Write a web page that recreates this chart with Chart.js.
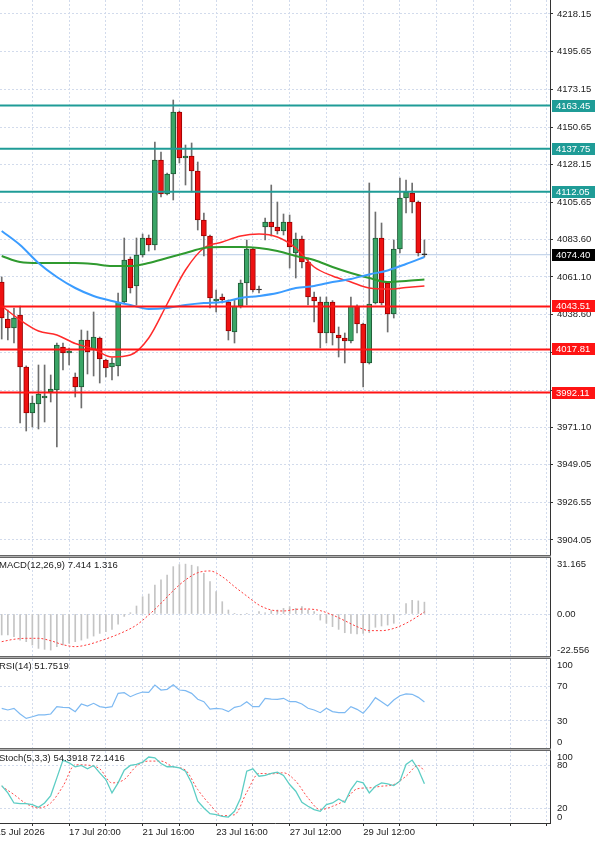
<!DOCTYPE html>
<html>
<head>
<meta charset="utf-8">
<script src="https://cdn.jsdelivr.net/npm/chart.js@4.4.1/dist/chart.umd.min.js"></script>
<style>
  body { margin: 0; background: #fff; }
  #wrap { position: relative; width: 600px; height: 842px; overflow: hidden; }
  canvas { position: absolute; left: 0; }
  .sep { position: absolute; left: 0; width: 551px; height: 1px; background: #b0b0b0;
         border-top: 1px solid #666; border-bottom: 1px solid #666; }
</style>
</head>
<body>
<div id="wrap">
  <canvas id="main" width="600" height="555" style="top:0"></canvas>
  <div class="sep" style="top:555px"></div>
  <canvas id="macd" width="600" height="98" style="top:558px"></canvas>
  <div class="sep" style="top:656px"></div>
  <canvas id="rsi" width="600" height="89" style="top:659px"></canvas>
  <div class="sep" style="top:748px"></div>
  <canvas id="stoch" width="600" height="91" style="top:751px"></canvas>
</div>
<script>
// 4h candles, bar 0 = first visible bar on the left
const open = [4058.11, 4036.02, 4030.64, 4038.40, 4007.36, 3979.89, 3985.27, 3988.85, 3992.43, 3993.62,
  4019.30, 4015.72, 4001.39, 3995.42, 4023.48, 4017.51, 4024.67, 4011.54, 4007.36, 4007.96,
  4046.17, 4071.85, 4055.72, 4074.24, 4084.39, 4080.21, 4130.96, 4110.66, 4122.60, 4159.63,
  4132.16, 4133.35, 4124.39, 4095.14, 4085.58, 4046.77, 4049.16, 4046.17, 4028.25, 4043.78,
  4057.51, 4077.82, 4053.93, 4090.96, 4093.94, 4090.96, 4088.57, 4093.94, 4075.43, 4083.79,
  4070.06, 4049.16, 4046.17, 4027.66, 4046.17, 4026.46, 4024.67, 4022.88, 4043.78, 4033.03,
  4009.75, 4045.57, 4084.39, 4057.51, 4039.00, 4077.82, 4108.27, 4111.26, 4105.88, 4074.90];
const high = [4061.10, 4041.39, 4042.59, 4043.78, 4008.00, 3990.04, 4008.55, 4008.55, 4002.58, 4021.69,
  4021.69, 4018.70, 4003.78, 4029.45, 4028.85, 4040.20, 4025.27, 4012.13, 4012.73, 4051.54,
  4084.39, 4073.04, 4084.39, 4086.77, 4086.18, 4141.71, 4135.74, 4123.20, 4166.79, 4160.22,
  4139.92, 4141.12, 4129.77, 4099.31, 4086.18, 4053.33, 4050.95, 4047.36, 4047.36, 4059.31,
  4083.19, 4078.40, 4055.72, 4096.33, 4116.03, 4105.88, 4098.72, 4098.12, 4087.37, 4085.58,
  4072.44, 4052.14, 4049.16, 4049.16, 4047.00, 4031.24, 4027.66, 4049.16, 4044.50, 4033.60,
  4117.23, 4099.91, 4093.34, 4058.00, 4083.19, 4120.21, 4119.02, 4117.23, 4106.50, 4083.19];
const low = [4024.07, 4023.48, 4021.69, 3973.92, 3969.14, 3971.53, 3970.34, 3974.52, 3986.46, 3959.59,
  4005.57, 4008.55, 3989.44, 3982.88, 4003.18, 4001.99, 3997.80, 4001.39, 3999.60, 4001.99,
  4045.57, 4051.54, 4044.38, 4073.04, 4076.62, 4077.22, 4108.87, 4110.06, 4107.08, 4129.17,
  4116.03, 4111.85, 4089.16, 4073.64, 4042.59, 4040.20, 4045.57, 4023.48, 4021.69, 4042.59,
  4044.38, 4052.14, 4051.54, 4083.19, 4085.58, 4086.77, 4086.18, 4066.47, 4060.50, 4066.47,
  4044.38, 4034.22, 4018.70, 4021.69, 4020.49, 4013.33, 4009.75, 4021.69, 4027.66, 3995.42,
  4009.15, 4045.00, 4044.38, 4028.25, 4036.61, 4075.43, 4099.31, 4099.31, 4073.64, 4073.04];
const close = [4036.61, 4030.64, 4036.61, 4007.36, 3979.89, 3985.86, 3991.24, 3990.04, 3994.22, 4020.49,
  4015.72, 4016.91, 3995.42, 4023.48, 4016.31, 4025.27, 4012.13, 4006.76, 4009.75, 4046.17,
  4071.25, 4054.53, 4074.24, 4084.39, 4080.21, 4130.96, 4110.66, 4122.60, 4159.63, 4132.16,
  4133.35, 4124.39, 4095.14, 4085.58, 4048.56, 4047.96, 4047.36, 4028.85, 4043.78, 4057.51,
  4077.82, 4053.33, 4053.33, 4093.94, 4090.96, 4088.57, 4093.94, 4079.01, 4083.79, 4070.06,
  4049.16, 4046.77, 4027.66, 4046.17, 4027.66, 4024.67, 4022.88, 4043.78, 4033.03, 4009.75,
  4044.97, 4084.39, 4045.57, 4039.00, 4077.82, 4108.27, 4111.85, 4105.88, 4075.43, 4074.40];

// moving averages, read every 3rd bar
const maIdx  = [0, 3, 6, 9, 12, 15, 18, 21, 24, 27, 30, 33, 36, 39, 42, 45, 48, 51, 54, 57, 60, 63, 66, 69];
const maRed  = [4043.78, 4035.42, 4028.85, 4026.46, 4021.39, 4018.10, 4013.33, 4014.50, 4024.67, 4044.97, 4065.28, 4078.41,
  4082.00, 4085.58, 4086.77, 4084.98, 4078.41, 4067.07, 4061.69, 4058.11, 4054.53, 4053.90, 4054.80, 4055.72];
const maGreen = [4073.64, 4070.06, 4069.46, 4069.46, 4069.46, 4068.86, 4067.67, 4067.67, 4069.46, 4072.44, 4075.43, 4078.41,
  4079.01, 4079.01, 4078.41, 4076.62, 4073.64, 4071.25, 4067.07, 4063.49, 4060.50, 4058.11, 4058.71, 4059.60];
const maBlue = [4088.57, 4080.21, 4069.46, 4061.10, 4054.53, 4049.76, 4046.77, 4044.38, 4041.99, 4042.59, 4044.38, 4045.57,
  4046.17, 4048.56, 4049.76, 4051.54, 4054.53, 4055.72, 4058.11, 4059.90, 4062.65, 4065.03, 4068.86, 4073.04];

const resistance = [4163.45, 4137.75, 4112.05];
const support    = [4043.51, 4017.81, 3992.11];
const lastPrice  = 4074.40;
const priceTicks = [4218.15, 4195.65, 4173.15, 4150.65, 4128.15, 4105.65, 4083.60, 4061.10, 4038.60,
  4016.10, 3993.60, 3971.10, 3949.05, 3926.55, 3904.05];

// MACD(12,26,9): histogram per bar, signal every 2nd bar
const macdHist = [-13.1, -13.1, -14.2, -16.3, -17.3, -19.4, -21.5, -22.1, -22.56, -20.4,
  -19.4, -18.3, -17.3, -16.3, -15.2, -13.8, -12.1, -11.0, -9.6, -6.3,
  -1.5, 0.8, 5.0, 10.8, 12.5, 18.1, 21.3, 24.4, 29.6, 30.9,
  31.17, 30.5, 29.6, 25.4, 20.2, 14.0, 7.7, 2.5, 0.2, -0.5,
  0.4, -0.3, 1.5, 0.8, 2.1, 2.5, 3.5, 4.6, 3.5, 4.6,
  2.5, 1.5, -3.8, -5.8, -7.9, -9.6, -11.7, -12.1, -12.5, -12.1,
  -11.7, -8.3, -7.5, -6.9, -5.8, -0.6, 6.5, 8.6, 8.2, 7.414];
const sigIdx = [0, 2, 4, 6, 8, 10, 12, 14, 16, 18, 20, 22, 24, 26, 28, 30, 32, 34,
  36, 38, 40, 42, 44, 46, 48, 50, 52, 54, 56, 58, 60, 62, 64, 66, 68, 69];
const macdSignal = [-17.3, -15.8, -15.2, -15.2, -16.7, -19.2, -20.4, -19.2, -16.9, -14.2, -11.0, -6.9, -0.6, 6.7, 14.6, 21.3, 25.8, 26.9,
  23.3, 17.1, 11.25, 5.6, 2.5, 1.9, 2.9, 3.1, 2.1, -0.6, -4.2, -7.9, -10.4, -10.4, -9.0, -5.8, -1.25, 1.316];

const rsi = [44.5, 42.6, 44.5, 38.0, 33.0, 34.9, 36.9, 36.9, 38.0, 46.4,
  45.6, 45.2, 40.7, 49.4, 47.1, 50.2, 46.4, 45.2, 46.4, 61.6,
  62.4, 57.8, 60.9, 63.1, 62.8, 71.1, 65.4, 66.2, 71.5, 65.4,
  64.7, 61.6, 54.8, 52.1, 43.7, 44.5, 43.7, 40.7, 45.6, 47.1,
  52.1, 46.4, 46.4, 55.9, 55.1, 54.8, 55.9, 52.1, 52.1, 49.4,
  44.5, 42.6, 39.5, 44.5, 40.7, 39.5, 39.5, 46.4, 43.3, 38.8,
  47.1, 56.7, 52.1, 47.1, 54.0, 58.9, 60.9, 60.5, 57.0, 51.7519];

const stochK = [52.0, 41.8, 27.8, 26.9, 26.9, 25.5, 21.8, 27.8, 38.1, 62.7,
  87.4, 83.6, 78.1, 79.9, 75.3, 79.9, 69.7, 60.4, 41.8, 55.7,
  73.4, 79.9, 81.3, 84.6, 91.6, 90.6, 82.7, 78.1, 78.1, 76.7,
  72.0, 55.7, 30.2, 20.9, 12.9, 11.5, 9.2, 8.3, 16.2, 34.8,
  72.0, 75.3, 65.0, 66.0, 68.8, 70.6, 66.0, 53.4, 44.1, 28.8,
  23.2, 18.5, 16.2, 25.5, 27.8, 33.4, 28.8, 46.4, 58.1, 55.7,
  41.8, 51.1, 55.7, 54.3, 52.0, 58.1, 81.3, 87.4, 74.3, 54.3918];
const stochD = [51.1, 39.5, 26.9, 20.9, 27.8, 51.1, 80.9, 80.4, 75.3, 55.7, 60.4, 79.0, 86.0, 86.0, 78.1, 73.4, 46.4, 25.5,
  10.2, 11.5, 42.7, 68.8, 68.3, 69.7, 58.1, 34.8, 18.5, 23.2, 31.5, 47.4, 48.8, 51.1, 53.4, 65.0, 79.9, 72.1416];

const dateIdx  = [-1, 11, 23, 35, 47, 59];
const dateText = ['15 Jul 2026', '17 Jul 20:00', '21 Jul 16:00', '23 Jul 16:00', '27 Jul 12:00', '29 Jul 12:00'];

// ---- styling ----
const FAMILY = '"Liberation Sans", Arial, sans-serif';
const FONT = '9.5px ' + FAMILY;
const TXT = '#222';
const GRID = '#d2dbec';
const UP = '#3aa566', UP_EDGE = '#1f5a35';
const DOWN = '#ee1111', DOWN_EDGE = '#990000';
const TEAL = '#1f9c97', RED = '#ff1414';
const X_MIN = -0.28, X_MAX = 89.5;

Chart.defaults.font.family = FAMILY;
Chart.defaults.font.size = 9.5;
Chart.defaults.color = TXT;

const gridIdx = [];
for (let v = -1; v <= 89; v += 6) gridIdx.push(v);

function xAxis(withLabels) {
  return {
    type: 'linear', min: X_MIN, max: X_MAX, offset: false,
    afterBuildTicks: s => { s.ticks = gridIdx.map(v => ({ value: v })); },
    afterFit: s => { s.paddingLeft = 0; s.paddingRight = 0; if (withLabels) s.height = 19; },
    grid: { color: GRID, offset: false, drawTicks: withLabels, tickLength: 3, tickColor: '#333', tickBorderDash: [] },
    border: { display: withLabels, color: '#333', dash: [2, 2] },
    ticks: withLabels ? {
      autoSkip: false, maxRotation: 0, align: 'start', padding: 1,
      callback: v => { const k = dateIdx.indexOf(v); return k < 0 ? '' : dateText[k]; }
    } : { display: false }
  };
}

function yAxis(min, max, tickVals, withLabels) {
  return {
    type: 'linear', position: 'right', min, max,
    afterBuildTicks: s => { s.ticks = tickVals.map(v => ({ value: v })); },
    afterFit: s => { s.width = 50; s.paddingTop = 0; s.paddingBottom = 0; },
    grid: { color: GRID, drawTicks: withLabels, tickLength: 3, tickColor: '#333', tickBorderDash: [] },
    border: { display: true, color: '#333', dash: [2, 2] },
    ticks: withLabels ? { padding: 4, callback: v => v.toFixed(2) } : { display: false }
  };
}

const baseOpts = {
  responsive: false, animation: false, events: [], devicePixelRatio: 1,
  layout: { padding: 0 },
  plugins: { legend: { display: false }, tooltip: { enabled: false } }
};

const pts = (idx, vals) => vals.map((v, k) => ({ x: idx[k], y: v }));
const seq = vals => vals.map((v, i) => ({ x: i, y: v }));
const line = (data, color, width, extra) => Object.assign({
  type: 'line', data, borderColor: color, borderWidth: width, pointRadius: 0,
  cubicInterpolationMode: 'monotone', fill: false
}, extra || {});

// ---- main price pane ----
const bars = open.map((_, i) => i);
const bodyFill = bars.map(i => Math.abs(close[i] - open[i]) < 0.7 ? '#222' : close[i] > open[i] ? UP : DOWN);
const bodyEdge = bars.map(i => Math.abs(close[i] - open[i]) < 0.7 ? '#222' : close[i] > open[i] ? UP_EDGE : DOWN_EDGE);

const levelLine = (v, color) => line([{ x: X_MIN, y: v }, { x: X_MAX, y: v }], color, 2, { order: 2, cubicInterpolationMode: 'default' });

const levelTags = {
  id: 'levelTags',
  afterDraw(chart) {
    const { ctx, chartArea, scales: { y } } = chart;
    ctx.save();
    ctx.font = FONT;
    ctx.textBaseline = 'middle';
    const tag = (v, bg) => {
      const py = Math.round(y.getPixelForValue(v));
      ctx.fillStyle = bg;
      ctx.fillRect(chartArea.right + 2, py - 6, 43, 12);
      ctx.fillStyle = '#fff';
      ctx.fillText(v.toFixed(2), chartArea.right + 6, py + 0.5);
    };
    resistance.forEach(v => tag(v, TEAL));
    support.forEach(v => tag(v, RED));
    tag(lastPrice, '#000');
    ctx.restore();
  }
};

new Chart(document.getElementById('main'), {
  type: 'bar',
  data: {
    datasets: [
      { type: 'bar', data: bars.map(i => ({ x: i, y: [low[i], high[i]] })), backgroundColor: '#6e6e6e',
        barThickness: 1, grouped: false, order: 5 },
      { type: 'bar', data: bars.map(i => ({ x: i, y: [open[i], close[i]] })), backgroundColor: bodyFill,
        borderColor: bodyEdge, borderWidth: 1, borderSkipped: false, barThickness: 5, grouped: false, order: 4 },
      line(pts(maIdx, maBlue), '#3b9cff', 2, { order: 3 }),
      line(pts(maIdx, maGreen), '#2f9a2f', 2, { order: 3 }),
      line(pts(maIdx, maRed), '#ff2a2a', 1.5, { order: 3 }),
      line([{ x: X_MIN, y: lastPrice }, { x: X_MAX, y: lastPrice }], '#b7cbe6', 1, { order: 6 }),
      ...resistance.map(v => levelLine(v, TEAL)),
      ...support.map(v => levelLine(v, RED))
    ]
  },
  options: Object.assign({}, baseOpts, {
    scales: { x: xAxis(false), y: yAxis(3895.09, 4226.51, priceTicks, true) }
  }),
  plugins: [levelTags]
});

// ---- indicator panes ----
function paneText(title, vals, texts) {
  return {
    id: 'paneText',
    afterDraw(chart) {
      const { ctx, chartArea, scales: { y } } = chart;
      ctx.save();
      ctx.font = FONT;
      ctx.fillStyle = TXT;
      ctx.textBaseline = 'middle';
      ctx.fillText(title, -1, chartArea.top + 7);
      vals.forEach((v, k) => {
        const py = Math.min(Math.max(y.getPixelForValue(v), chartArea.top + 6), chartArea.bottom - 6);
        ctx.fillText(texts[k], chartArea.right + 7, py);
      });
      ctx.restore();
    }
  };
}

new Chart(document.getElementById('macd'), {
  type: 'bar',
  data: {
    datasets: [
      line(pts(sigIdx, macdSignal), '#ff3b3b', 1, { borderDash: [2, 2], order: 1 }),
      { type: 'bar', data: seq(macdHist), backgroundColor: '#c4c4c4', barThickness: 1, grouped: false, order: 2 }
    ]
  },
  options: Object.assign({}, baseOpts, {
    scales: { x: xAxis(false), y: yAxis(-26.25, 35.0, [0], false) }
  }),
  plugins: [paneText('MACD(12,26,9) 7.414 1.316', [31.165, 0, -22.556], ['31.165', '0.00', '-22.556'])]
});

new Chart(document.getElementById('rsi'), {
  type: 'line',
  data: { datasets: [line(seq(rsi), '#7db9f2', 1.2, { cubicInterpolationMode: 'default' })] },
  options: Object.assign({}, baseOpts, {
    scales: { x: xAxis(false), y: yAxis(-0.86, 100.86, [70, 30], false) }
  }),
  plugins: [paneText('RSI(14) 51.7519', [100, 70, 30, 0], ['100', '70', '30', '0'])]
});

new Chart(document.getElementById('stoch'), {
  type: 'line',
  data: {
    datasets: [
      line(seq(stochK), '#5ccdc4', 1.3, { cubicInterpolationMode: 'default' }),
      line(pts(sigIdx, stochD), '#ff4a4a', 1, { borderDash: [2, 2] })
    ]
  },
  options: Object.assign({}, baseOpts, {
    scales: { x: xAxis(true), y: yAxis(0, 100, [80, 20], false) }
  }),
  plugins: [paneText('Stoch(5,3,3) 54.3918 72.1416', [100, 80, 20, 0], ['100', '80', '20', '0'])]
});
</script>
</body>
</html>
